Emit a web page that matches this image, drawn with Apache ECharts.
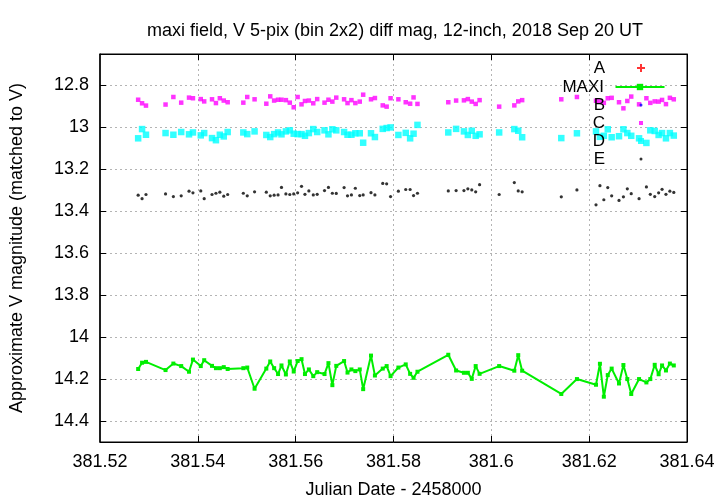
<!DOCTYPE html>
<html><head><meta charset="utf-8">
<script src="https://cdn.jsdelivr.net/npm/echarts@6/dist/echarts.min.js"></script>
<style>html,body{margin:0;padding:0;background:#fff}#c{width:720px;height:504px}</style>
</head><body><div id="c"></div>
<script>
// ---- data (JD - 2458000) ----
const times = [381.5278,381.5286,381.5294,381.5334,381.5350,381.5366,381.5382,381.5390,381.5406,381.5413,381.5429,381.5437,381.5445,381.5453,381.5461,381.5493,381.5501,381.5516,381.5540,381.5548,381.5556,381.5564,381.5571,381.5580,381.5588,381.5596,381.5604,381.5612,381.5619,
381.5627,381.5636,381.5644,381.5659,381.5667,381.5675,381.5683,381.5699,381.5706,381.5714,381.5722,381.5731,381.5738,381.5754,381.5762,381.5778,381.5786,381.5794,381.5810,381.5825,381.5834,381.5841,381.5849,381.5912,381.5928,381.5944,381.5952,381.5960,381.5968,381.5976,381.6016,
381.6047,381.6055,381.6063,381.6143,381.6175,
381.6214,381.6222,381.6230,381.6238,381.6246,381.6261,381.6270,381.6278,381.6286,381.6302,381.6317,381.6325,381.6334,381.6342,381.6349,381.6357,381.6365,381.6373];

const maxiMag = [14.152,14.122,14.118,14.157,14.126,14.138,14.165,14.107,14.138,14.110,14.137,14.148,14.148,14.143,14.152,14.148,14.145,14.246,14.150,14.116,14.148,14.176,14.135,14.178,14.116,14.164,14.114,14.105,14.176,
14.154,14.186,14.167,14.176,14.124,14.229,14.137,14.114,14.169,14.154,14.162,14.154,14.248,14.088,14.183,14.150,14.138,14.186,14.145,14.130,14.175,14.194,14.165,14.084,14.159,14.170,14.170,14.199,14.138,14.175,14.138,
14.160,14.086,14.160,14.271,14.200,
14.227,14.127,14.284,14.181,14.150,14.221,14.133,14.200,14.271,14.200,14.216,14.200,14.132,14.177,14.135,14.159,14.126,14.135];

const cMag = [12.868,12.885,12.896,12.891,12.855,12.882,12.858,12.861,12.865,12.876,12.866,12.884,12.861,12.872,12.880,12.882,12.855,12.866,12.887,12.852,12.872,12.868,12.868,12.870,12.882,12.904,12.855,12.890,12.874,
12.872,12.885,12.865,12.882,12.868,12.877,12.858,12.866,12.884,12.870,12.884,12.877,12.844,12.866,12.860,12.895,12.901,12.861,12.866,12.880,12.887,12.857,12.888,12.880,12.872,12.871,12.865,12.877,12.888,12.870,12.901,
12.895,12.876,12.870,12.866,12.855,
12.873,12.876,12.883,12.861,12.859,12.880,12.909,12.874,12.853,12.890,12.861,12.883,12.876,12.877,12.869,12.889,12.859,12.866];

const dMag = [13.052,13.008,13.035,13.027,13.035,13.022,13.033,13.024,13.038,13.027,13.051,13.061,13.035,13.043,13.022,13.024,13.032,13.019,13.036,13.046,13.032,13.024,13.033,13.019,13.014,13.030,13.032,13.032,13.040,
13.027,13.008,13.022,13.014,13.033,13.009,13.014,13.022,13.035,13.035,13.028,13.028,13.073,13.028,13.046,13.007,13.003,13.000,13.036,13.026,13.052,13.030,12.988,13.024,13.007,13.019,13.036,13.016,13.040,13.033,13.024,
13.008,13.016,13.047,13.051,13.028,
13.019,13.045,13.040,13.009,13.047,13.042,13.009,13.027,13.040,13.052,13.074,13.014,13.017,13.036,13.027,13.052,13.027,13.039];

const eMag = [13.323,13.340,13.320,13.317,13.330,13.326,13.304,13.312,13.303,13.340,13.320,13.314,13.309,13.328,13.320,13.314,13.326,13.307,13.309,13.326,13.323,13.322,13.286,13.317,13.320,13.317,13.312,13.281,13.319,
13.303,13.322,13.319,13.301,13.286,13.314,13.315,13.287,13.326,13.322,13.290,13.325,13.322,13.311,13.322,13.267,13.269,13.330,13.304,13.296,13.296,13.325,13.314,13.303,13.301,13.301,13.293,13.298,13.307,13.273,13.320,
13.263,13.303,13.307,13.331,13.298,
13.369,13.278,13.345,13.287,13.326,13.348,13.331,13.293,13.316,13.340,13.284,13.319,13.330,13.312,13.295,13.319,13.304,13.310];

const aMag = [];
const bMag = [];

const seriesNames = ['A','MAXI','B','C','D','E'];
const xTicks = [381.52,381.54,381.56,381.58,381.60,381.62,381.64];
const xTickLabels = ['381.52','381.54','381.56','381.58','381.6','381.62','381.64'];
const yTicks = [12.8,13.0,13.2,13.4,13.6,13.8,14.0,14.2,14.4];
const yTickLabels = ['12.8','13','13.2','13.4','13.6','13.8','14','14.2','14.4'];

// ---- build ----
const FONT = 'Liberation Sans';
const FS = 18;
const LFS = 17;
function pairs(xs, ys){ return ys.map((y,i)=>[xs[i], y]); }
function lookup(vals, labels, v){ let best=0; for(let i=1;i<vals.length;i++){ if(Math.abs(vals[i]-v)<Math.abs(vals[best]-v)) best=i; } return labels[best]; }

const gridCol = '#b4b4b4';
const xInner = xTicks.slice(1,-1);
const common = {fontFamily: FONT, fontSize: FS, color:'#000'};

function legendFor(name, cy, w, h, icon){
  const d = {name: name};
  if (icon) d.icon = icon;
  return {
    data:[d], orient:'vertical', align:'right', padding:0, selectedMode:false,
    right: 720 - 641 - w/2, top: cy - 9,
    itemWidth:w, itemHeight:h,
    textStyle:{fontFamily:FONT, fontSize:LFS, color:'#000', lineHeight:18, padding:[0, 31 - w/2, 0, 0]}
  };
}
const plusPath = 'path://M3,0H5V3H8V5H5V8H3V5H0V3H3Z';

const option = {
  animation:false,
  backgroundColor:'#fff',
  title:{text:'maxi field, V 5-pix (bin 2x2) diff mag, 12-inch, 2018 Sep 20 UT', left:390, top:17, textAlign:'center',
    textStyle:{fontFamily:FONT, fontSize:18, fontWeight:'normal', color:'#000'}},
  grid:{left:99, top:54, width:588, height:391, show:true, borderColor:'#000', borderWidth:1, backgroundColor:'transparent'},
  legend:[
    legendFor('A', 68, 8, 8, plusPath),
    legendFor('MAXI', 87, 49, 8),
    legendFor('B', 105, 3, 3),
    legendFor('C', 123, 4, 4),
    legendFor('D', 141, 6, 6),
    legendFor('E', 159, 3, 3)
  ],
  xAxis:[
    {type:'value', min:381.52, max:381.64, position:'bottom',
     axisLine:{lineStyle:{color:'#000', width:1}},
     axisTick:{inside:true, length:6, customValues:xInner, lineStyle:{color:'#000'}},
     axisLabel:Object.assign({customValues:xTicks, margin:11, formatter:v=>lookup(xTicks, xTickLabels, v)}, common),
     splitLine:{show:true, lineStyle:{color:gridCol, type:[2,3], width:1}},
     name:'Julian Date - 2458000', nameLocation:'middle', nameGap:39, nameTextStyle:common},
    {type:'value', min:381.52, max:381.64, position:'top',
     axisLine:{lineStyle:{color:'#000'}},
     axisTick:{inside:true, length:6, customValues:xInner, lineStyle:{color:'#000'}},
     axisLabel:{show:false}, splitLine:{show:false}}
  ],
  yAxis:[
    {type:'value', inverse:true, min:12.65, max:14.5, position:'left',
     axisLine:{lineStyle:{color:'#000', width:1.5}},
     axisTick:{inside:true, length:6, customValues:yTicks, lineStyle:{color:'#000'}},
     axisLabel:Object.assign({customValues:yTicks, margin:11, formatter:v=>lookup(yTicks, yTickLabels, v)}, common),
     splitLine:{show:true, lineStyle:{color:gridCol, type:[2,3], width:1}},
     name:'Approximate V magnitude (matched to V)', nameLocation:'middle', nameGap:74, nameRotate:90, nameTextStyle:common},
    {type:'value', inverse:true, min:12.65, max:14.5, position:'right',
     axisLine:{lineStyle:{color:'#000'}},
     axisTick:{inside:true, length:6, customValues:yTicks, lineStyle:{color:'#000'}},
     axisLabel:{show:false}, splitLine:{show:false}}
  ],
  series:[
    {name:seriesNames[0], type:'scatter', data:pairs(times, aMag), symbol:plusPath, symbolSize:7, itemStyle:{color:'#ff0000'}},
    {name:seriesNames[1], type:'line', data:pairs(times, maxiMag), symbol:'rect', symbolSize:4, showSymbol:true, showAllSymbol:true,
      lineStyle:{color:'#00ee00', width:2}, itemStyle:{color:'#00ee00'}},
    {name:seriesNames[2], type:'scatter', data:pairs(times, bMag), symbol:'circle', symbolSize:3, itemStyle:{color:'#0000ff'}},
    {name:seriesNames[3], type:'scatter', data:pairs(times, cMag), symbol:'rect', symbolSize:4.5, itemStyle:{color:'#ff00ff'}},
    {name:seriesNames[4], type:'scatter', data:pairs(times, dMag), symbol:'rect', symbolSize:6.5, itemStyle:{color:'#00ffff'}},
    {name:seriesNames[5], type:'scatter', data:pairs(times, eMag), symbol:'circle', symbolSize:3.2, itemStyle:{color:'#000000'}}
  ]
};
const chart = echarts.init(document.getElementById('c'), null, {renderer:'canvas', width:720, height:504});
chart.setOption(option);
</script>
</body></html>
